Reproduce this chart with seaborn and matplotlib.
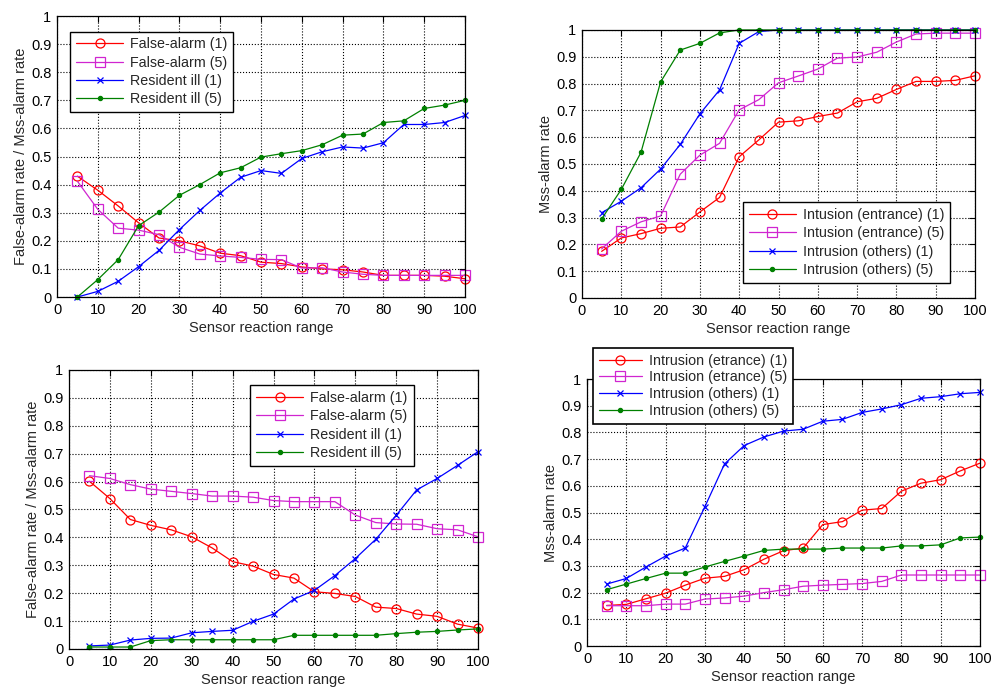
import matplotlib
matplotlib.use('Agg')
import matplotlib.pyplot as plt
import seaborn as sns

# Shared axis values
x_range = list(range(5, 105, 5))
x_ticks = list(range(0, 110, 10))
y_ticks = [0, 0.1, 0.2, 0.3, 0.4, 0.5, 0.6, 0.7, 0.8, 0.9, 1.0]
y_tick_labels = ['0', '0.1', '0.2', '0.3', '0.4', '0.5', '0.6', '0.7', '0.8', '0.9', '1']

# Top-left panel
fa1_top = [0.43, 0.38, 0.324, 0.264, 0.21, 0.20, 0.182, 0.156, 0.147, 0.124,
           0.119, 0.107, 0.10, 0.097, 0.089, 0.077, 0.077, 0.077, 0.074, 0.065]
fa5_top = [0.412, 0.312, 0.245, 0.238, 0.222, 0.177, 0.153, 0.146, 0.141, 0.134,
           0.133, 0.103, 0.104, 0.089, 0.081, 0.077, 0.077, 0.077, 0.077, 0.077]
ri1_top = [0.0, 0.02, 0.056, 0.108, 0.166, 0.24, 0.308, 0.37, 0.426, 0.45,
           0.44, 0.493, 0.517, 0.534, 0.53, 0.549, 0.614, 0.614, 0.621, 0.646]
ri5_top = [0.0, 0.062, 0.133, 0.254, 0.302, 0.362, 0.40, 0.442, 0.46, 0.498,
           0.51, 0.521, 0.542, 0.576, 0.58, 0.621, 0.627, 0.671, 0.683, 0.70]

# Top-right panel
ie1_top = [0.174, 0.224, 0.24, 0.26, 0.265, 0.321, 0.375, 0.527, 0.59, 0.656,
           0.661, 0.677, 0.69, 0.732, 0.745, 0.778, 0.808, 0.808, 0.812, 0.829]
ie5_top = [0.183, 0.249, 0.284, 0.306, 0.462, 0.533, 0.577, 0.702, 0.74, 0.803,
           0.828, 0.854, 0.895, 0.899, 0.917, 0.955, 0.985, 0.988, 0.988, 0.988]
io1_top = [0.318, 0.361, 0.411, 0.481, 0.573, 0.687, 0.776, 0.95, 0.994, 1.0,
           1.0, 1.0, 1.0, 1.0, 1.0, 1.0, 1.0, 1.0, 1.0, 1.0]
io5_top = [0.295, 0.405, 0.543, 0.806, 0.925, 0.95, 0.989, 1.0, 1.0, 1.0,
           1.0, 1.0, 1.0, 1.0, 1.0, 1.0, 1.0, 1.0, 1.0, 1.0]

# Bottom-left panel
fa1_bot = [0.601, 0.539, 0.464, 0.443, 0.427, 0.402, 0.362, 0.313, 0.297, 0.267,
           0.254, 0.205, 0.199, 0.188, 0.15, 0.145, 0.125, 0.117, 0.089, 0.075]
fa5_bot = [0.621, 0.611, 0.589, 0.573, 0.565, 0.557, 0.548, 0.548, 0.544, 0.532,
           0.528, 0.528, 0.528, 0.48, 0.453, 0.448, 0.447, 0.431, 0.427, 0.402]
ri1_bot = [0.011, 0.014, 0.032, 0.038, 0.039, 0.058, 0.063, 0.067, 0.099, 0.125,
           0.179, 0.21, 0.263, 0.324, 0.393, 0.479, 0.57, 0.611, 0.658, 0.707]
ri5_bot = [0.007, 0.007, 0.007, 0.03, 0.033, 0.033, 0.033, 0.033, 0.033, 0.033,
           0.049, 0.049, 0.049, 0.049, 0.049, 0.055, 0.06, 0.063, 0.068, 0.072]

# Bottom-right panel
ie1_bot = [0.152, 0.156, 0.177, 0.198, 0.228, 0.254, 0.261, 0.286, 0.325, 0.357,
           0.367, 0.455, 0.466, 0.509, 0.515, 0.58, 0.61, 0.623, 0.656, 0.685]
ie5_bot = [0.151, 0.151, 0.151, 0.157, 0.157, 0.176, 0.18, 0.187, 0.20, 0.211,
           0.224, 0.228, 0.231, 0.234, 0.242, 0.266, 0.266, 0.266, 0.266, 0.266]
io1_bot = [0.232, 0.253, 0.296, 0.337, 0.367, 0.522, 0.682, 0.751, 0.783, 0.805,
           0.812, 0.842, 0.849, 0.875, 0.888, 0.904, 0.928, 0.934, 0.945, 0.95]
io5_bot = [0.211, 0.232, 0.253, 0.273, 0.273, 0.296, 0.317, 0.337, 0.358, 0.363,
           0.363, 0.363, 0.367, 0.367, 0.367, 0.375, 0.375, 0.379, 0.405, 0.408]

fa_labels = ['False-alarm (1)', 'False-alarm (5)', 'Resident ill (1)', 'Resident ill (5)']
top_right_labels = ['Intusion (entrance) (1)', 'Intusion (entrance) (5)',
                    'Intrusion (others) (1)', 'Intrusion (others) (5)']
bot_right_labels = ['Intrusion (etrance) (1)', 'Intrusion (etrance) (5)',
                    'Intrusion (others) (1)', 'Intrusion (others) (5)']

sns.set_style('white')
plt.rcParams['font.family'] = ['Liberation Sans', 'DejaVu Sans']
plt.rcParams['font.size'] = 10.5

# marker / colour per series position
styles = [
    dict(color='#ff0000', marker='o', markersize=6.5, markerfacecolor='none'),
    dict(color='#d025d0', marker='s', markersize=6.5, markerfacecolor='none'),
    dict(color='#0000ff', marker='x', markersize=5),
    dict(color='#008000', marker='.', markersize=6),
]


def draw_panel(ax, series, labels, ylabel):
    for vals, lab, st in zip(series, labels, styles):
        sns.lineplot(x=x_range, y=vals, ax=ax, label=lab, linewidth=0.9,
                     markeredgecolor=st['color'], markeredgewidth=0.9,
                     clip_on=False, **st)
    ax.set_xlim(0, 100)
    ax.set_ylim(0, 1)
    ax.set_xticks(x_ticks)
    ax.set_yticks(y_ticks)
    ax.set_yticklabels(y_tick_labels)
    ax.grid(True, color='black', linestyle=':', linewidth=0.8)
    ax.tick_params(direction='in', length=4, top=True, right=True,
                   labelsize=10.5, colors='black', pad=4)
    for sp in ax.spines.values():
        sp.set_color('black')
        sp.set_linewidth(0.9)
    ax.set_xlabel('Sensor reaction range', fontsize=10.5, labelpad=3)
    ax.set_ylabel(ylabel, fontsize=10.5, labelpad=2)


fig = plt.figure(figsize=(10, 7), dpi=100)
ax1 = fig.add_axes([0.057, 0.5757, 0.408, 0.4014])
ax2 = fig.add_axes([0.582, 0.5743, 0.393, 0.3829])
ax3 = fig.add_axes([0.069, 0.0729, 0.409, 0.3986])
ax4 = fig.add_axes([0.587, 0.0771, 0.393, 0.3814])

draw_panel(ax1, [fa1_top, fa5_top, ri1_top, ri5_top], fa_labels,
           'False-alarm rate / Mss-alarm rate')
draw_panel(ax2, [ie1_top, ie5_top, io1_top, io5_top], top_right_labels,
           'Mss-alarm rate')
draw_panel(ax3, [fa1_bot, fa5_bot, ri1_bot, ri5_bot], fa_labels,
           'False-alarm rate / Mss-alarm rate')
draw_panel(ax4, [ie1_bot, ie5_bot, io1_bot, io5_bot], bot_right_labels,
           'Mss-alarm rate')

leg_kw = dict(fancybox=False, edgecolor='black', framealpha=1, fontsize=10.3,
              handlelength=3.3, borderpad=0.4, labelspacing=0.3, handletextpad=0.5)
ax1.legend(loc='upper left', bbox_to_anchor=(0.015, 0.97), **leg_kw)
ax2.legend(loc='lower right', bbox_to_anchor=(0.955, 0.03), **leg_kw)
ax3.legend(loc='upper right', bbox_to_anchor=(0.86, 0.97), **leg_kw)
leg4 = ax4.legend(loc='upper left', bbox_to_anchor=(0.593, 0.503),
                  bbox_transform=fig.transFigure, borderaxespad=0,
                  **dict(leg_kw, labelspacing=0.2, handlelength=3.0))
leg4.get_frame().set_linewidth(1.2)

fig.savefig('out.png', dpi=100, facecolor='white')
